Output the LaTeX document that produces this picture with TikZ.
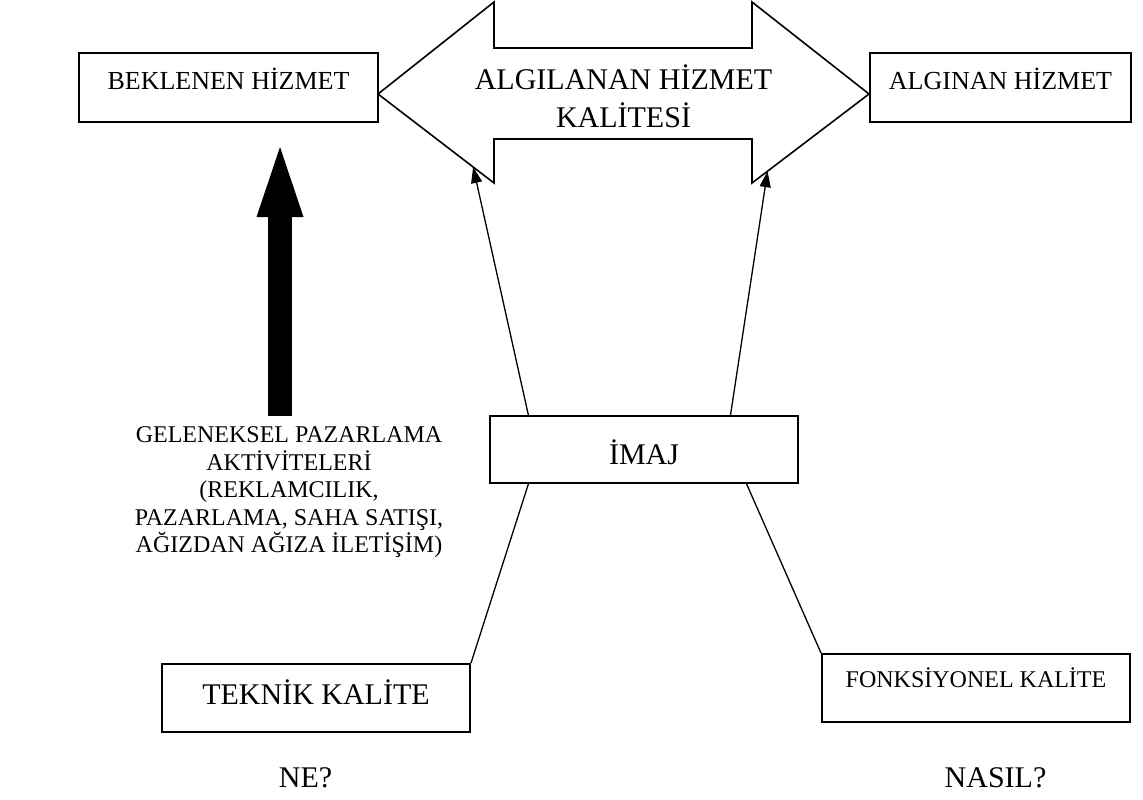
\documentclass[tikz,border=0pt]{standalone}
\usepackage{fontspec}
\setmainfont{Liberation Serif}
\usetikzlibrary{positioning,arrows.meta,calc}
\newcommand{\fsz}[2]{\fontsize{#1}{#2}\selectfont}

\begin{document}
\begin{tikzpicture}[
  x=0.5pt,y=-0.5pt,
  blk/.style={rectangle,draw,line width=1pt,inner sep=0pt,align=center},
  arr/.style={-{Triangle[length=8pt,width=5.5pt]},line width=0.65pt},
  bigarr/.style={-{Triangle[length=35pt,width=23.5pt,line width=0pt]},line width=12pt},
  lnk/.style={line width=0.65pt}
]
\useasboundingbox (0,0) rectangle (1143,799);
% upper boxes
\node[blk,minimum width=149.5pt,minimum height=34.5pt,text height=9pt,text depth=7pt,
  font=\fsz{13pt}{15pt}] (bek) at (228.5,87.5) {BEKLENEN HİZMET};
\node[blk,minimum width=130.5pt,minimum height=34.5pt,text height=9pt,text depth=7pt,
  font=\fsz{13pt}{15pt}] (aln) at (1000.5,87.5) {ALGINAN HİZMET};
% double arrow
\coordinate (dl)  at (378,94);
\coordinate (dlt) at (494,2);
\coordinate (dlb) at (494,183);
\coordinate (dr)  at (869,94);
\coordinate (drt) at (752,2);
\coordinate (drb) at (752,183);
\draw[line width=0.8pt] (dl) -- (dlt) -- (494,48) -- (752,48) -- (drt) -- (dr)
  -- (drb) -- (752,139) -- (494,139) -- (dlb) -- cycle;
\node[font=\fsz{15pt}{19pt},align=center] (ahk) at (623.5,96)
  {ALGILANAN HİZMET\\KALİTESİ};
% middle
\node[blk,minimum width=154pt,minimum height=33.5pt,text height=14.5pt,text depth=0pt,
  font=\fsz{15pt}{18pt}] (imaj) at (644,449.5) {İMAJ};
\node[fill=white,inner sep=0pt,minimum width=179.5pt,minimum height=76.5pt,align=center,
  font=\fsz{12pt}{13.75pt}] (gel) at (289,492.5)
  {GELENEKSEL PAZARLAMA\\AKTİVİTELERİ\\(REKLAMCILIK,\\PAZARLAMA, SAHA SATIŞI,\\AĞIZDAN AĞIZA İLETİŞİM)};
% lower boxes
\node[blk,minimum width=154pt,minimum height=34pt,text height=10pt,text depth=4pt,
  font=\fsz{15pt}{18pt}] (tek) at (316,698) {TEKNİK KALİTE};
\node[blk,minimum width=154pt,minimum height=34pt,text height=8.5pt,text depth=9.5pt,
  font=\fsz{12pt}{14pt}] (fonk) at (976,688) {FONKSİYONEL KALİTE};
\node[font=\fsz{15pt}{18pt},anchor=base] (ne) at (305.5,787) {NE?};
\node[font=\fsz{15pt}{18pt},anchor=base] (nasil) at (995.5,787) {NASIL?};
% connectors
\coordinate (btip) at (280,147);
\draw[bigarr] (gel.north -| btip) -- (btip);
\draw[arr] ($(imaj.north west)!0.127!(imaj.north east)$) -- ($(dl)!0.82!(dlb)$);
\draw[arr] ($(imaj.north west)!0.779!(imaj.north east)$) -- ($(dr)!0.867!(drb)$);
\draw[lnk] ($(imaj.south west)!0.127!(imaj.south east)$) -- (tek.north east);
\draw[lnk] ($(imaj.south west)!0.831!(imaj.south east)$) -- (fonk.north west);
\end{tikzpicture}
\end{document}
